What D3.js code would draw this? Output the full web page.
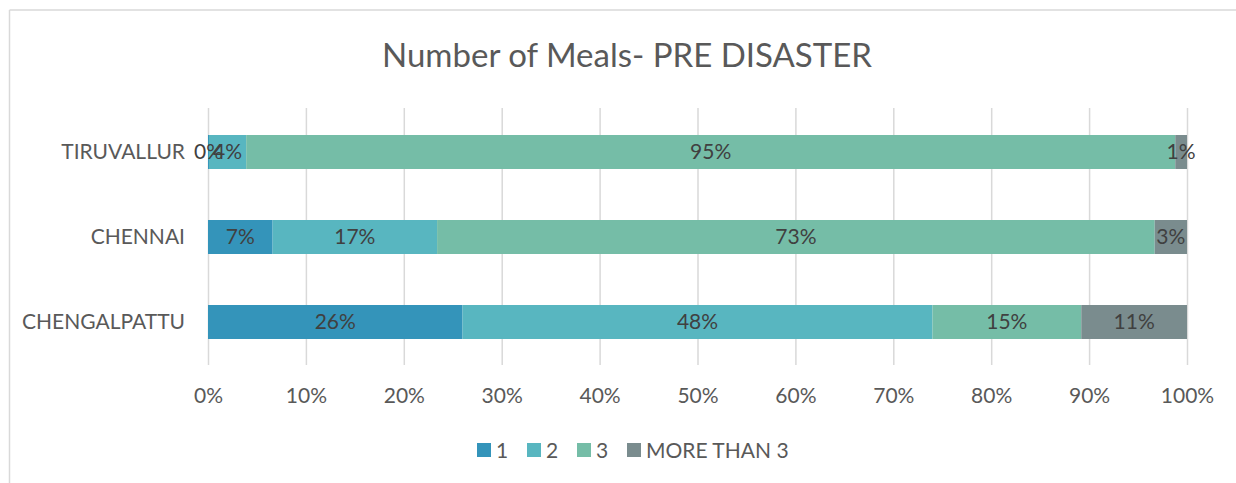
<!DOCTYPE html>
<html>
<head>
<meta charset="utf-8">
<script src="https://cdn.jsdelivr.net/npm/d3@7"></script>
<style>
  body { margin: 0; background: #fff; }
  text { font-family: Lato, "Open Sans", sans-serif; }
</style>
</head>
<body>
<svg id="chart" width="1236" height="483"></svg>
<script>
// Categories from top to bottom
var districts = ["TIRUVALLUR", "CHENNAI", "CHENGALPATTU"];
var seriesNames = ["1", "2", "3", "MORE THAN 3"];
var colors = ["#3494BA", "#58B6C0", "#75BDA7", "#7A8C8E"];

// Share of each series per district (percent)
var mealsOne = [0.1, 6.6, 26.0];
var mealsTwo = [3.8, 16.8, 48.0];
var mealsThree = [94.9, 73.3, 15.2];
var mealsMore = [1.2, 3.3, 10.8];
var labelsOne = ["0%", "7%", "26%"];
var labelsTwo = ["4%", "17%", "48%"];
var labelsThree = ["95%", "73%", "15%"];
var labelsMore = ["1%", "3%", "11%"];
var xTicks = [0, 10, 20, 30, 40, 50, 60, 70, 80, 90, 100];

var seriesVals = [mealsOne, mealsTwo, mealsThree, mealsMore];
var seriesLabels = [labelsOne, labelsTwo, labelsThree, labelsMore];

var svg = d3.select("#chart");

// Outer chart border (only left and top visible in the crop)
svg.append("line").attr("x1", 9.5).attr("x2", 9.5).attr("y1", 10).attr("y2", 483)
    .attr("stroke", "#d9d9d9").attr("stroke-width", 1.5);
svg.append("line").attr("x1", 9.5).attr("x2", 1236).attr("y1", 10).attr("y2", 10)
    .attr("stroke", "#d9d9d9").attr("stroke-width", 1.5);

// Title
svg.append("text")
    .attr("x", 627).attr("y", 67)
    .attr("text-anchor", "middle")
    .attr("fill", "#595959")
    .style("font-size", "33px")
    .text("Number of Meals- PRE DISASTER");

var plotLeft = 208, plotRight = 1187, plotTop = 108, plotBottom = 365;
var fs = "21px";

var x = d3.scaleLinear().domain([0, 100]).range([plotLeft, plotRight]);
var y = d3.scaleBand().domain(districts).range([109.5, 364.5]).paddingInner(0.6).paddingOuter(0.3);

// Gridlines
svg.append("g").selectAll("line")
    .data(xTicks)
    .enter().append("line")
    .attr("x1", function (d) { return x(d) + 0.5; })
    .attr("x2", function (d) { return x(d) + 0.5; })
    .attr("y1", plotTop)
    .attr("y2", plotBottom)
    .attr("stroke", "#d9d9d9")
    .attr("stroke-width", 1.5);

// X axis tick labels
var xAxis = d3.axisBottom(x).tickValues(xTicks).tickSize(0).tickPadding(0)
    .tickFormat(function (d) { return d + "%"; });
var xg = svg.append("g").attr("transform", "translate(0,403)").call(xAxis);
xg.select(".domain").remove();
xg.selectAll("text").attr("fill", "#595959").style("font-size", fs).attr("dy", 0);

// Y axis category labels
var yAxis = d3.axisLeft(y).tickSize(0).tickPadding(23);
var yg = svg.append("g").attr("transform", "translate(" + plotLeft + ",0)").call(yAxis);
yg.select(".domain").remove();
yg.selectAll("text").attr("fill", "#595959").style("font-size", fs);

// Stacked bars
var stackData = districts.map(function (name, i) {
    var row = { district: name };
    seriesNames.forEach(function (s, j) { row[s] = seriesVals[j][i]; });
    return row;
});
var stacked = d3.stack().keys(seriesNames)(stackData);

var layers = svg.append("g").selectAll("g")
    .data(stacked)
    .enter().append("g")
    .attr("fill", function (d, i) { return colors[i]; });

layers.selectAll("rect")
    .data(function (d) { return d; })
    .enter().append("rect")
    .attr("x", function (d) { return x(d[0]); })
    .attr("y", function (d) { return y(d.data.district); })
    .attr("width", function (d) { return x(d[1]) - x(d[0]); })
    .attr("height", y.bandwidth());

// Data labels
stacked.forEach(function (layer, j) {
    svg.append("g").selectAll("text")
        .data(layer)
        .enter().append("text")
        .attr("x", function (d) { return (x(d[0]) + x(d[1])) / 2; })
        .attr("y", function (d) { return y(d.data.district) + y.bandwidth() / 2; })
        .attr("dy", "0.35em")
        .attr("text-anchor", "middle")
        .attr("fill", "#404040")
        .style("font-size", fs)
        .text(function (d, i) { return seriesLabels[j][i]; });
});

// Legend
var legendItems = [
    { name: "1", x: 477 },
    { name: "2", x: 527 },
    { name: "3", x: 577 },
    { name: "MORE THAN 3", x: 627 }
];
var legend = svg.append("g").selectAll("g")
    .data(legendItems)
    .enter().append("g")
    .attr("transform", function (d) { return "translate(" + d.x + ",443)"; });
legend.append("rect")
    .attr("width", 14).attr("height", 14)
    .attr("fill", function (d, i) { return colors[i]; });
legend.append("text")
    .attr("x", 19).attr("y", 7).attr("dy", "0.36em")
    .attr("fill", "#595959")
    .style("font-size", fs)
    .text(function (d) { return d.name; });
</script>
</body>
</html>
